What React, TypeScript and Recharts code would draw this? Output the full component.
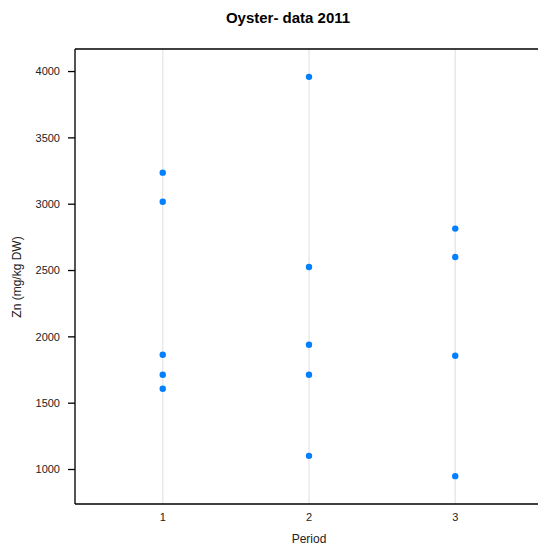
import React from "react";
import {
  CartesianGrid,
  ReferenceLine,
  Scatter,
  ScatterChart,
  XAxis,
  YAxis,
} from "recharts";

const periods = [1, 2, 3];
const zincPeriod1 = [3238, 3019, 1865, 1714, 1609];
const zincPeriod2 = [3960, 2527, 1941, 1714, 1103];
const zincPeriod3 = [2816, 2602, 1858, 950];
const yTicks = [1000, 1500, 2000, 2500, 3000, 3500, 4000];

const FONT = "'Liberation Sans', Arial, sans-serif";
const DOT = "#0080ff";

const points = [zincPeriod1, zincPeriod2, zincPeriod3].flatMap((vals, i) =>
  vals.map((zn) => ({ period: periods[i], zn }))
);

const Dot = (props: any) => (
  <circle cx={props.cx} cy={props.cy} r={3.2} fill={DOT} />
);

export default function App() {
  return (
    <div
      style={{
        position: "absolute",
        left: 0,
        top: 0,
        width: 538,
        height: 551,
        overflow: "hidden",
        background: "#fff",
        fontFamily: FONT,
      }}>
      <ScatterChart
        width={560}
        height={551}
        margin={{ top: 49, right: 17, bottom: 17, left: 0 }}>
        <CartesianGrid horizontal={false} stroke="#e6e6e6" strokeWidth={1.3} />
        <XAxis
          type="number"
          dataKey="period"
          height={30}
          domain={[0.4, 3.6]}
          ticks={periods}
          allowDataOverflow
          tickLine={false}
          axisLine={{ stroke: "#000", strokeWidth: 1.3 }}
          tickMargin={3}
          tick={{ fontSize: 11, fill: "#222", fontFamily: FONT }}
        />
        <YAxis
          type="number"
          dataKey="zn"
          width={75}
          domain={[740, 4170]}
          ticks={yTicks}
          allowDataOverflow
          tickSize={7}
          tickMargin={8}
          tickLine={{ stroke: "#000", strokeWidth: 1.3 }}
          axisLine={{ stroke: "#000", strokeWidth: 1.3 }}
          tick={{ fontSize: 11, fill: "#222", fontFamily: FONT }}
        />
        <ReferenceLine y={4170} stroke="#000" strokeWidth={1.3} />
        <Scatter data={points} shape={Dot} isAnimationActive={false} />
      </ScatterChart>
      <div
        style={{
          position: "absolute",
          left: 0,
          width: 576,
          top: 9,
          textAlign: "center",
          fontWeight: "bold",
          fontSize: 15,
          color: "#000",
        }}>
        Oyster- data 2011
      </div>
      <div
        style={{
          position: "absolute",
          left: 75,
          width: 468,
          top: 532,
          textAlign: "center",
          fontSize: 12,
          color: "#222",
        }}>
        Period
      </div>
      <div
        style={{
          position: "absolute",
          left: 17,
          top: 277,
          transform: "translate(-50%, -50%) rotate(-90deg)",
          whiteSpace: "nowrap",
          fontSize: 12,
          color: "#222",
        }}>
        Zn (mg/kg DW)
      </div>
    </div>
  );
}
